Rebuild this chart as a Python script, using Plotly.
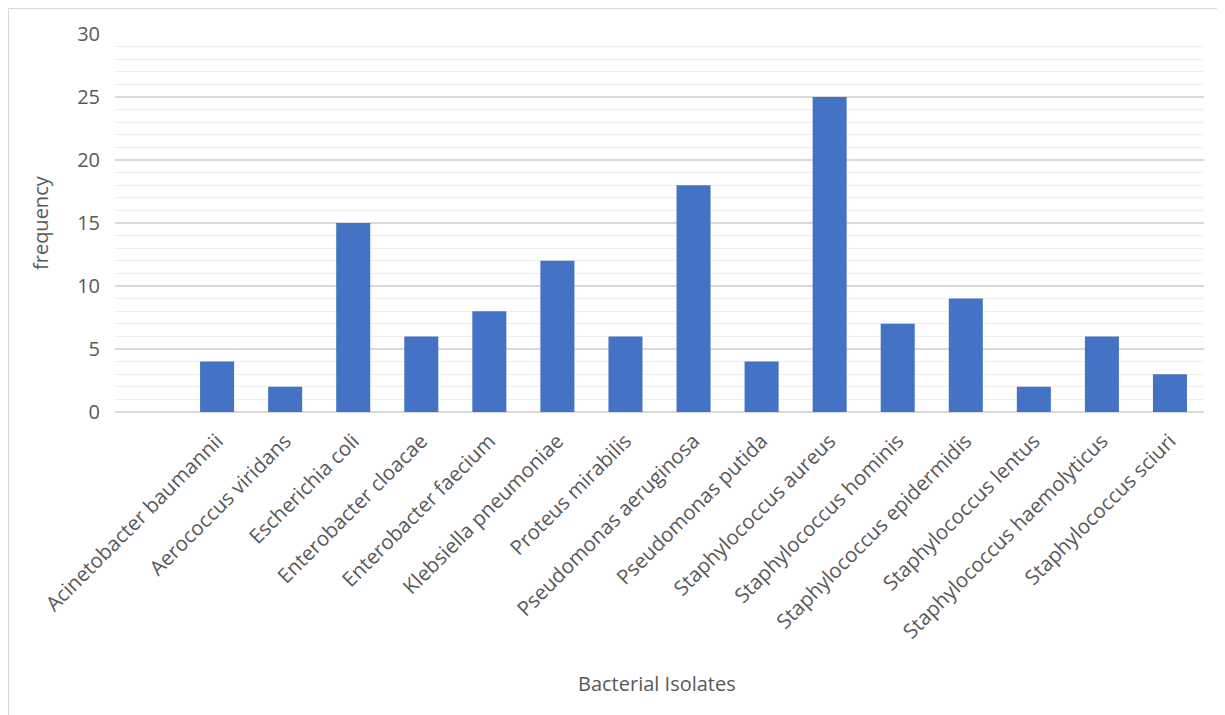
import plotly.graph_objects as go

categories = [
    "Acinetobacter baumannii", "Aerococcus viridans", "Escherichia coli",
    "Enterobacter cloacae", "Enterobacter faecium", "Klebsiella pneumoniae",
    "Proteus mirabilis", "Pseudomonas aeruginosa", "Pseudomonas putida",
    "Staphylococcus aureus", "Staphylococcus hominis", "Staphylococcus epidermidis",
    "Staphylococcus lentus", "Staphylococcus haemolyticus", "Staphylococcus sciuri",
]
frequency = [4, 2, 15, 6, 8, 12, 6, 18, 4, 25, 7, 9, 2, 6, 3]
y_ticks = [0, 5, 10, 15, 20, 25, 30]

OFF = 8  # page body margin
W, H = 1225 - OFF, 715 - OFF
L, R, T, B = 115 - OFF, 21, 34 - OFF, 303
pw, ph = W - L - R, H - T - B

FONT = "Open Sans"
GRAY = "#595959"

fig = go.Figure(go.Bar(
    x=categories, y=frequency, marker_color="#4472C4",
    marker_line_width=0, width=0.5,
))

def px_x(p):
    return (p - OFF - L) / pw

def px_y(p):
    return (H - B - (p - OFF)) / ph

fig.update_layout(
    width=W, height=H,
    margin=dict(l=L, r=R, t=T, b=B),
    paper_bgcolor="white", plot_bgcolor="white",
    font=dict(family=FONT, color=GRAY),
    showlegend=False,
    xaxis=dict(
        type="category", categoryarray=categories, range=[-1.5, 14.5],
        tickangle=-45, tickfont=dict(size=20.5, color=GRAY, family=FONT),
        showgrid=False, showline=False, zeroline=False, ticks="",
        ticklabelstandoff=12,
    ),
    yaxis=dict(
        range=[0, 30], tickvals=y_ticks, ticktext=[str(v) for v in y_ticks],
        tickfont=dict(size=20, color=GRAY, family=FONT),
        showgrid=True, gridcolor="#d9d9d9", gridwidth=1.5,
        minor=dict(dtick=1, showgrid=True, gridcolor="#eeeeee", gridwidth=1),
        zeroline=True, zerolinecolor="#d9d9d9", zerolinewidth=1.5,
        showline=False, ticks="", ticklabelstandoff=14,
    ),
    annotations=[
        dict(text="frequency", x=px_x(40), y=px_y(223), xref="paper", yref="paper",
             textangle=-90, showarrow=False, font=dict(size=20, color=GRAY, family=FONT),
             xanchor="center", yanchor="middle"),
        dict(text="Bacterial Isolates", x=px_x(657), y=px_y(683), xref="paper", yref="paper",
             showarrow=False, font=dict(size=20, color=GRAY, family=FONT),
             xanchor="center", yanchor="middle"),
    ],
    shapes=[
        dict(type="rect", xref="paper", yref="paper",
             x0=px_x(8.5), x1=px_x(1218), y0=px_y(740), y1=px_y(8.5),
             line=dict(color="#d9d9d9", width=1), layer="below"),
    ],
)

fig.write_html("out.html")
